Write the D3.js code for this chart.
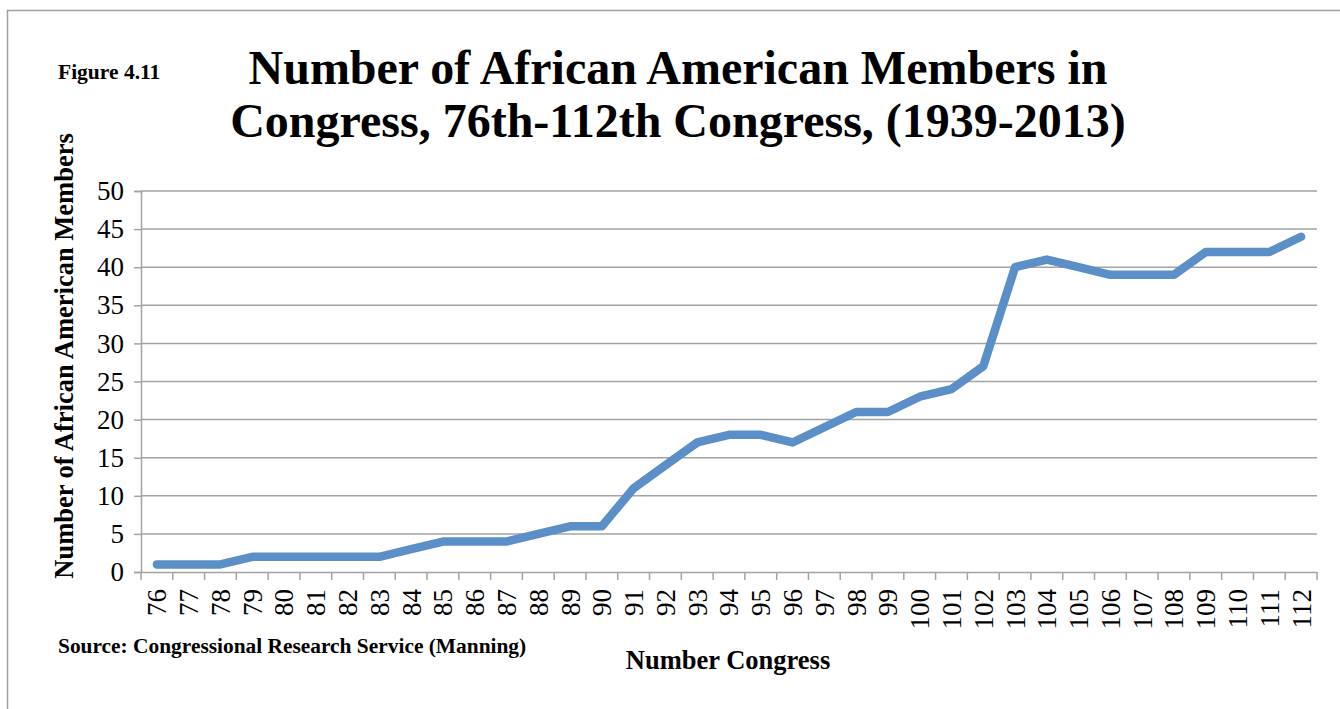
<!DOCTYPE html>
<html>
<head>
<meta charset="utf-8">
<script src="https://cdn.jsdelivr.net/npm/d3@7"></script>
<style>
  html, body { margin: 0; padding: 0; background: #fff; }
  svg { display: block; }
  text { font-family: "Liberation Serif", "Times New Roman", serif; fill: #000; }
</style>
</head>
<body>
<svg id="chart" width="1340" height="709"></svg>
<script>
const congresses = ["76","77","78","79","80","81","82","83","84","85","86","87","88","89","90","91","92","93","94","95","96","97","98","99","100","101","102","103","104","105","106","107","108","109","110","111","112"];
const members = [1,1,1,2,2,2,2,2,3,4,4,4,5,6,6,11,14,17,18,18,17,19,21,21,23,24,27,40,41,40,39,39,39,42,42,42,44];
const yTicks = [0,5,10,15,20,25,30,35,40,45,50];
const titleLines = ["Number of African American Members in", "Congress, 76th-112th Congress, (1939-2013)"];
const figureLabel = "Figure 4.11";
const yTitle = "Number of African American Members";
const xTitle = "Number Congress";
const sourceNote = "Source: Congressional Research Service (Manning)";

const svg = d3.select("#chart");
const gridColor = "#a3a3a3";
const serif = "'Liberation Serif', 'Times New Roman', serif";

// outer frame
svg.append("rect")
  .attr("x", 7.5).attr("y", 10.5)
  .attr("width", 1400).attr("height", 800)
  .attr("fill", "none").attr("stroke", "#a0a0a0").attr("stroke-width", 1.5);

const x = d3.scaleBand().domain(congresses).range([141, 1317]);
const y = d3.scaleLinear().domain([0, 50]).range([572, 191]);

// gridlines
svg.append("g").selectAll("line")
  .data(yTicks.filter(d => d > 0))
  .join("line")
  .attr("x1", 141).attr("x2", 1317)
  .attr("y1", d => y(d)).attr("y2", d => y(d))
  .attr("stroke", gridColor).attr("stroke-width", 1.5);

// y axis
const yAxis = svg.append("g")
  .attr("transform", "translate(141,0)")
  .call(d3.axisLeft(y).tickValues(yTicks).tickSize(7).tickPadding(10).tickFormat(d3.format("d")));
yAxis.attr("font-family", null);
yAxis.select(".domain").attr("stroke", gridColor).attr("stroke-width", 1.5);
yAxis.selectAll(".tick line").attr("stroke", gridColor).attr("stroke-width", 1.5);
yAxis.selectAll(".tick text")
  .style("font-family", serif)
  .attr("font-size", 27).attr("fill", "#000");

// x axis
const xAxis = svg.append("g")
  .attr("transform", "translate(0,572)")
  .call(d3.axisBottom(x).tickSize(0).tickSizeOuter(0));
xAxis.attr("font-family", null);
xAxis.select(".domain").attr("stroke", gridColor).attr("stroke-width", 1.5);
xAxis.selectAll(".tick line").remove();
xAxis.selectAll(".tick text")
  .style("font-family", serif)
  .attr("font-size", 27).attr("fill", "#000")
  .attr("text-anchor", "end")
  .attr("transform", "translate(0,17) rotate(-90)")
  .attr("x", 0).attr("y", 0).attr("dy", "0.35em");
// category boundary ticks
const bounds = congresses.map(c => x(c)).concat([x.range()[1]]);
svg.append("g").selectAll("line")
  .data(bounds)
  .join("line")
  .attr("x1", d => d).attr("x2", d => d)
  .attr("y1", 572).attr("y2", 580)
  .attr("stroke", gridColor).attr("stroke-width", 1.5);

// data line
const line = d3.line()
  .x((d, i) => x(congresses[i]) + x.bandwidth() / 2)
  .y(d => y(d));
svg.append("path")
  .datum(members)
  .attr("d", line)
  .attr("fill", "none")
  .attr("stroke", "#5b8fc8")
  .attr("stroke-width", 8.5)
  .attr("stroke-linecap", "round")
  .attr("stroke-linejoin", "round");

// title
svg.append("text")
  .attr("x", 678).attr("y", 84)
  .attr("text-anchor", "middle")
  .attr("font-size", 48).attr("font-weight", "bold")
  .selectAll("tspan").data(titleLines).join("tspan")
  .attr("x", 678).attr("dy", (d, i) => i === 0 ? 0 : 53)
  .text(d => d);

svg.append("text")
  .attr("x", 58).attr("y", 79)
  .attr("font-size", 21.5).attr("font-weight", "bold")
  .text(figureLabel);

svg.append("text")
  .attr("transform", "translate(73,356) rotate(-90)")
  .attr("text-anchor", "middle")
  .attr("font-size", 26.5).attr("font-weight", "bold")
  .text(yTitle);

svg.append("text")
  .attr("x", 728).attr("y", 669)
  .attr("text-anchor", "middle")
  .attr("font-size", 26.5).attr("font-weight", "bold")
  .text(xTitle);

svg.append("text")
  .attr("x", 58).attr("y", 653)
  .attr("font-size", 21.4).attr("font-weight", "bold")
  .text(sourceNote);
</script>
</body>
</html>
